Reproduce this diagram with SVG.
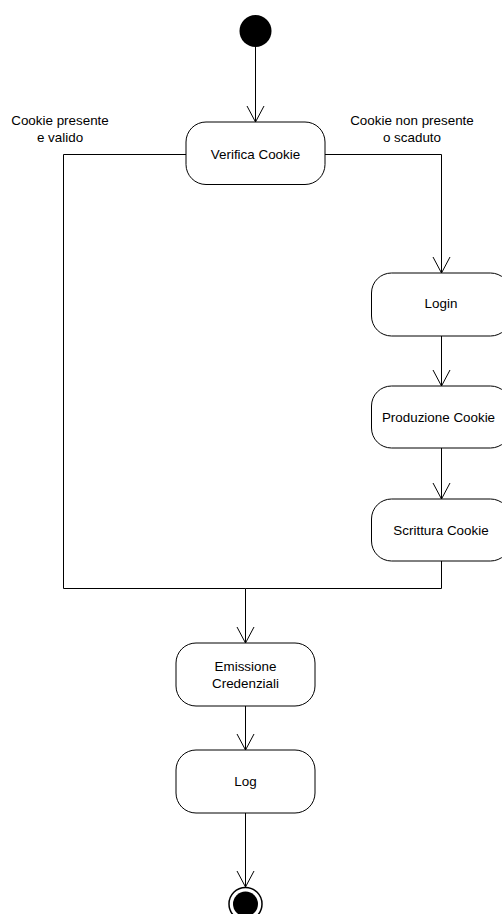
<svg xmlns="http://www.w3.org/2000/svg" width="502" height="914" viewBox="0 0 502 914">
  <style>
    .act { fill: #ffffff; stroke: #000000; stroke-width: 1; }
    .lbl { font-family: "Liberation Sans", Arial, sans-serif; font-size: 13.4px; fill: #000000; text-anchor: middle; }
    .flow { fill: none; stroke: #000000; stroke-width: 1; }
  </style>
  <defs>
    <marker id="open-arrow" markerUnits="userSpaceOnUse" markerWidth="20" markerHeight="20" refX="0" refY="0" orient="auto" overflow="visible">
      <path d="M-16,-8.5 L0,0 L-16,8.5" fill="none" stroke="#000000" stroke-width="1"/>
    </marker>
  </defs>
  <rect width="502" height="914" fill="#ffffff"/>

  <!-- transitions -->
  <g id="connectors">
    <path class="flow" d="M255.5,47 L255.5,122" marker-end="url(#open-arrow)"/>
    <path class="flow" d="M186,154.5 L63.5,154.5 L63.5,588.5 L245.5,588.5 L245.5,643" marker-end="url(#open-arrow)"/>
    <path class="flow" d="M325,154.5 L441.5,154.5 L441.5,273" marker-end="url(#open-arrow)"/>
    <path class="flow" d="M441.5,336 L441.5,386" marker-end="url(#open-arrow)"/>
    <path class="flow" d="M441.5,448 L441.5,499" marker-end="url(#open-arrow)"/>
    <path class="flow" d="M441.5,561 L441.5,588.5 L245.5,588.5"/>
    <path class="flow" d="M245.5,706 L245.5,750" marker-end="url(#open-arrow)"/>
    <path class="flow" d="M245.5,813 L245.5,887" marker-end="url(#open-arrow)"/>
    <text class="lbl" x="60" y="125">Cookie presente</text>
    <text class="lbl" x="60" y="142">e valido</text>
    <text class="lbl" x="412" y="125">Cookie non presente</text>
    <text class="lbl" x="412" y="142">o scaduto</text>
  </g>

  <g id="start">
    <circle cx="255.5" cy="31" r="16" fill="#000000"/>
  </g>

  <g id="verifica-cookie">
    <rect class="act" x="186" y="122" width="139" height="62.5" rx="20" ry="20"/>
    <text class="lbl" x="255.5" y="158.5">Verifica Cookie</text>
  </g>

  <g id="login">
    <rect class="act" x="371.5" y="273" width="139" height="63" rx="20" ry="20"/>
    <text class="lbl" x="441" y="308">Login</text>
  </g>

  <g id="produzione-cookie">
    <rect class="act" x="371.5" y="386" width="139" height="62" rx="20" ry="20"/>
    <text class="lbl" x="438.5" y="421.5">Produzione Cookie</text>
  </g>

  <g id="scrittura-cookie">
    <rect class="act" x="371.5" y="499" width="139" height="62" rx="20" ry="20"/>
    <text class="lbl" x="441" y="534.5">Scrittura Cookie</text>
  </g>

  <g id="emissione-credenziali">
    <rect class="act" x="176" y="643" width="139" height="63" rx="20" ry="20"/>
    <text class="lbl" x="245.5" y="671">Emissione</text>
    <text class="lbl" x="245.5" y="688">Credenziali</text>
  </g>

  <g id="log">
    <rect class="act" x="176" y="750" width="139" height="63" rx="20" ry="20"/>
    <text class="lbl" x="245.5" y="786">Log</text>
  </g>

  <g id="end">
    <circle cx="245.5" cy="904" r="16.5" fill="#ffffff" stroke="#000000" stroke-width="1.5"/>
    <circle cx="245.5" cy="904" r="12.5" fill="#000000"/>
  </g>
</svg>
